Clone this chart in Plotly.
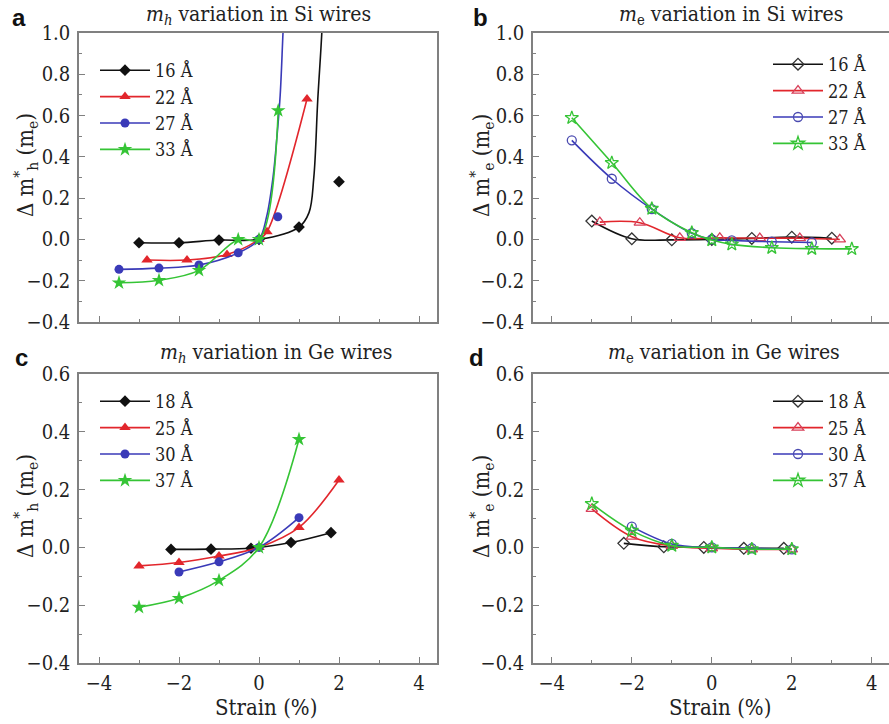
import plotly.graph_objects as go

W, H = 889, 724

# ---------------- data ----------------
# Panel a: m_h variation in Si wires
a_names = ["16 Å", "22 Å", "27 Å", "33 Å"]
a16_x = [-3, -2, -1, 0, 1, 2]
a16_y = [-0.016, -0.016, -0.003, 0.0, 0.06, 0.28]
a16_curve_x = [-3, -2, -1, 0, 1, 1.25, 1.37, 1.47, 1.57, 1.63]
a16_curve_y = [-0.016, -0.016, -0.003, 0.0, 0.06, 0.13, 0.30, 0.68, 1.0, 1.3]
a22_x = [-2.8, -1.8, -0.8, 0, 0.2, 1.2]
a22_y = [-0.100, -0.100, -0.073, 0.0, 0.037, 0.68]
a27_x = [-3.5, -2.5, -1.5, -0.52, 0, 0.47]
a27_y = [-0.145, -0.139, -0.124, -0.065, 0.0, 0.11]
a27_curve_x = [-3.5, -2.5, -1.5, -0.52, 0, 0.19, 0.35, 0.45, 0.53, 0.60, 0.65]
a27_curve_y = [-0.145, -0.139, -0.124, -0.065, 0.0, 0.11, 0.30, 0.50, 0.70, 1.0, 1.2]
a33_x = [-3.5, -2.5, -1.5, -0.52, 0, 0.48]
a33_y = [-0.210, -0.198, -0.150, 0.0, 0.0, 0.624]

# Panel b: m_e variation in Si wires
b_names = ["16 Å", "22 Å", "27 Å", "33 Å"]
b16_x = [-3, -2, -1, 0, 1, 2, 3]
b16_y = [0.089, 0.003, -0.002, 0.0, 0.005, 0.011, 0.006]
b22_x = [-2.8, -1.8, -0.8, 0.2, 1.2, 2.2, 3.2]
b22_y = [0.084, 0.081, 0.008, 0.008, 0.006, 0.006, 0.0]
b27_x = [-3.5, -2.5, -1.5, -0.5, 0, 0.5, 1.5, 2.5]
b27_y = [0.480, 0.294, 0.147, 0.030, 0.0, -0.005, -0.011, -0.015]
b33_x = [-3.5, -2.5, -1.5, -0.5, 0, 0.5, 1.5, 2.5, 3.5]
b33_y = [0.589, 0.371, 0.149, 0.032, -0.003, -0.024, -0.040, -0.045, -0.046]

# Panel c: m_h variation in Ge wires
c_names = ["18 Å", "25 Å", "30 Å", "37 Å"]
c18_x = [-2.2, -1.2, -0.2, 0.8, 1.8]
c18_y = [-0.007, -0.006, -0.003, 0.017, 0.051]
c25_x = [-3, -2, -1, 0, 1, 2]
c25_y = [-0.064, -0.052, -0.030, 0.0, 0.069, 0.233]
c30_x = [-2, -1, 0, 1]
c30_y = [-0.085, -0.050, 0.0, 0.103]
c37_x = [-3, -2, -1, 0, 1]
c37_y = [-0.207, -0.176, -0.114, 0.0, 0.374]

# Panel d: m_e variation in Ge wires
d_names = ["18 Å", "25 Å", "30 Å", "37 Å"]
d18_x = [-2.2, -1.2, -0.2, 0.8, 1.8]
d18_y = [0.014, 0.002, 0.0, -0.003, -0.003]
d25_x = [-3, -2, -1, 0, 1, 2]
d25_y = [0.133, 0.037, 0.005, -0.003, -0.007, -0.007]
d30_x = [-2, -1, 0, 1, 2]
d30_y = [0.072, 0.012, 0.0, -0.003, -0.007]
d37_x = [-3, -2, -1, 0, 1, 2]
d37_y = [0.151, 0.058, 0.006, 0.0, -0.006, -0.006]

x_tick_vals = [-4, -2, 0, 2, 4]

# ---------------- styling ----------------
COLORS = ["#111111", "#e2262c", "#3a3ab8", "#35c435"]
OPEN_COLORS = ["#333333", "#d8405a", "#4a4ab0", "#35c435"]
SYMS = ["diamond", "triangle-up", "circle", "star"]
SIZES = [9, 10, 9, 11]
OPEN_SIZES = [9, 10, 9, 10]
SERIF = "DejaVu Serif Condensed"
SANS = "Liberation Sans"
AXC = "#808080"
TXT = "#222222"


def px_x(p):
    return p / W


def px_y(p):
    return 1 - p / H


fig = go.Figure()


def add_series(ax, leg, name, i, mx, my, lx=None, ly=None, is_open=False):
    xa, ya = ("x" + ax, "y" + ax) if ax else ("x", "y")
    color = COLORS[i]
    mcol = OPEN_COLORS[i] if is_open else COLORS[i]
    sym = SYMS[i] + ("-open" if is_open else "")
    lx = mx if lx is None else lx
    ly = my if ly is None else ly
    marker = dict(symbol=sym, size=OPEN_SIZES[i] if is_open else SIZES[i], color=mcol,
                  line=dict(width=1.3 if is_open else 0, color=mcol))
    fig.add_trace(go.Scatter(x=lx, y=ly, mode="lines", xaxis=xa, yaxis=ya,
                             line=dict(color=color, width=1.6, shape="spline", smoothing=1),
                             showlegend=False, hoverinfo="skip"))
    fig.add_trace(go.Scatter(x=mx, y=my, mode="markers", xaxis=xa, yaxis=ya,
                             marker=marker, showlegend=False, cliponaxis=True))
    fig.add_trace(go.Scatter(x=[None], y=[None], mode="lines+markers", xaxis=xa, yaxis=ya,
                             line=dict(color=color, width=1.6), marker=marker,
                             name=name, legend=leg, showlegend=True))


# panel a
add_series("", "legend", a_names[0], 0, a16_x, a16_y, a16_curve_x, a16_curve_y)
add_series("", "legend", a_names[1], 1, a22_x, a22_y)
add_series("", "legend", a_names[2], 2, a27_x, a27_y, a27_curve_x, a27_curve_y)
add_series("", "legend", a_names[3], 3, a33_x, a33_y)
# panel b
for i, (xs, ys) in enumerate([(b16_x, b16_y), (b22_x, b22_y), (b27_x, b27_y), (b33_x, b33_y)]):
    add_series("2", "legend2", b_names[i], i, xs, ys, is_open=True)
# panel c
for i, (xs, ys) in enumerate([(c18_x, c18_y), (c25_x, c25_y), (c30_x, c30_y), (c37_x, c37_y)]):
    add_series("3", "legend3", c_names[i], i, xs, ys)
# panel d
for i, (xs, ys) in enumerate([(d18_x, d18_y), (d25_x, d25_y), (d30_x, d30_y), (d37_x, d37_y)]):
    add_series("4", "legend4", d_names[i], i, xs, ys, is_open=True)


def xaxis(domain, rng, labels, anchor):
    return dict(domain=domain, range=rng, tickmode="array", tickvals=x_tick_vals,
                showticklabels=labels, ticks="inside", ticklen=6, tickwidth=1.2,
                tickcolor=AXC, showline=True, linecolor=AXC, linewidth=1.5, mirror=True,
                showgrid=False, zeroline=False, automargin=False, anchor=anchor,
                minor=dict(ticks="inside", ticklen=3, dtick=1, tickcolor=AXC, tickwidth=1, showgrid=False),
                ticklabelstandoff=1,
                tickfont=dict(family=SERIF, size=20, color=TXT))


def yaxis(domain, rng, anchor):
    return dict(domain=domain, range=rng, dtick=0.2, tick0=0, tickformat=".1f",
                ticks="inside", ticklen=6, tickwidth=1.2, tickcolor=AXC,
                showline=True, linecolor=AXC, linewidth=1.5, mirror=True,
                showgrid=False, zeroline=False, anchor=anchor, automargin=False,
                minor=dict(ticks="inside", ticklen=3, dtick=0.1, tickcolor=AXC, tickwidth=1, showgrid=False),
                ticklabelstandoff=3,
                tickfont=dict(family=SERIF, size=20, color=TXT))


left_dom = [px_x(79), px_x(437)]
right_dom = [px_x(533), 1.0]
top_dom = [px_y(322), px_y(33)]
bot_dom = [px_y(663), px_y(374)]

leg_common = dict(font=dict(family=SERIF, size=18, color=TXT), bgcolor="rgba(0,0,0,0)",
                  xanchor="left", yanchor="top", itemwidth=50, tracegroupgap=0)

fig.update_layout(
    template="none",
    font=dict(family=SERIF),
    width=W, height=H, margin=dict(l=0, r=0, t=0, b=0, pad=0, autoexpand=False),
    paper_bgcolor="white", plot_bgcolor="white", showlegend=True,
    xaxis=xaxis(left_dom, [-4.5, 4.45], False, "y"),
    yaxis=yaxis(top_dom, [-0.4, 1.0], "x"),
    xaxis2=xaxis(right_dom, [-4.47, 4.43], False, "y2"),
    yaxis2=yaxis(top_dom, [-0.4, 1.0], "x2"),
    xaxis3=xaxis(left_dom, [-4.5, 4.45], True, "y3"),
    yaxis3=yaxis(bot_dom, [-0.4, 0.6], "x3"),
    xaxis4=xaxis(right_dom, [-4.47, 4.43], True, "y4"),
    yaxis4=yaxis(bot_dom, [-0.4, 0.6], "x4"),
    legend=dict(x=px_x(95), y=px_y(52), **leg_common),
    legend2=dict(x=px_x(768), y=px_y(46), **leg_common),
    legend3=dict(x=px_x(95), y=px_y(383), **leg_common),
    legend4=dict(x=px_x(768), y=px_y(383), **leg_common),
)

anns = []


def ann(text, xp, yp, size, family=SERIF, angle=0, bold=False):
    anns.append(dict(text=("<b>%s</b>" % text) if bold else text, x=px_x(xp), y=px_y(yp),
                     xref="paper", yref="paper", showarrow=False, textangle=angle,
                     xanchor="center", yanchor="middle",
                     font=dict(family=family, size=size, color=TXT if not bold else "#111")))


# panel letters
ann("a", 19, 17, 24, SANS, bold=True)
ann("b", 480, 17, 24, SANS, bold=True)
ann("c", 21, 357, 24, SANS, bold=True)
ann("d", 476, 357, 24, SANS, bold=True)
# titles
ann("<i>m</i><sub><i>h</i></sub> variation in Si wires", 258, 15, 21)
ann("<i>m</i><sub>e</sub> variation in Si wires", 731, 15, 21)
ann("<i>m</i><sub><i>h</i></sub> variation in Ge wires", 276, 353, 21)
ann("<i>m</i><sub>e</sub> variation in Ge wires", 724, 353, 21)
# y titles
ann("Δ m<sup>*</sup><sub>h</sub> (m<sub>e</sub>)", 26, 165, 22, angle=-90)
ann("Δ m<sup>*</sup><sub>e</sub> (m<sub>e</sub>)", 482, 165, 22, angle=-90)
ann("Δ m<sup>*</sup><sub>h</sub> (m<sub>e</sub>)", 26, 506, 22, angle=-90)
ann("Δ m<sup>*</sup><sub>e</sub> (m<sub>e</sub>)", 482, 506, 22, angle=-90)
# x titles
ann("Strain (%)", 266, 707, 22)
ann("Strain (%)", 720, 707, 22)

fig.update_layout(annotations=anns)
fig.write_html("out.html")
